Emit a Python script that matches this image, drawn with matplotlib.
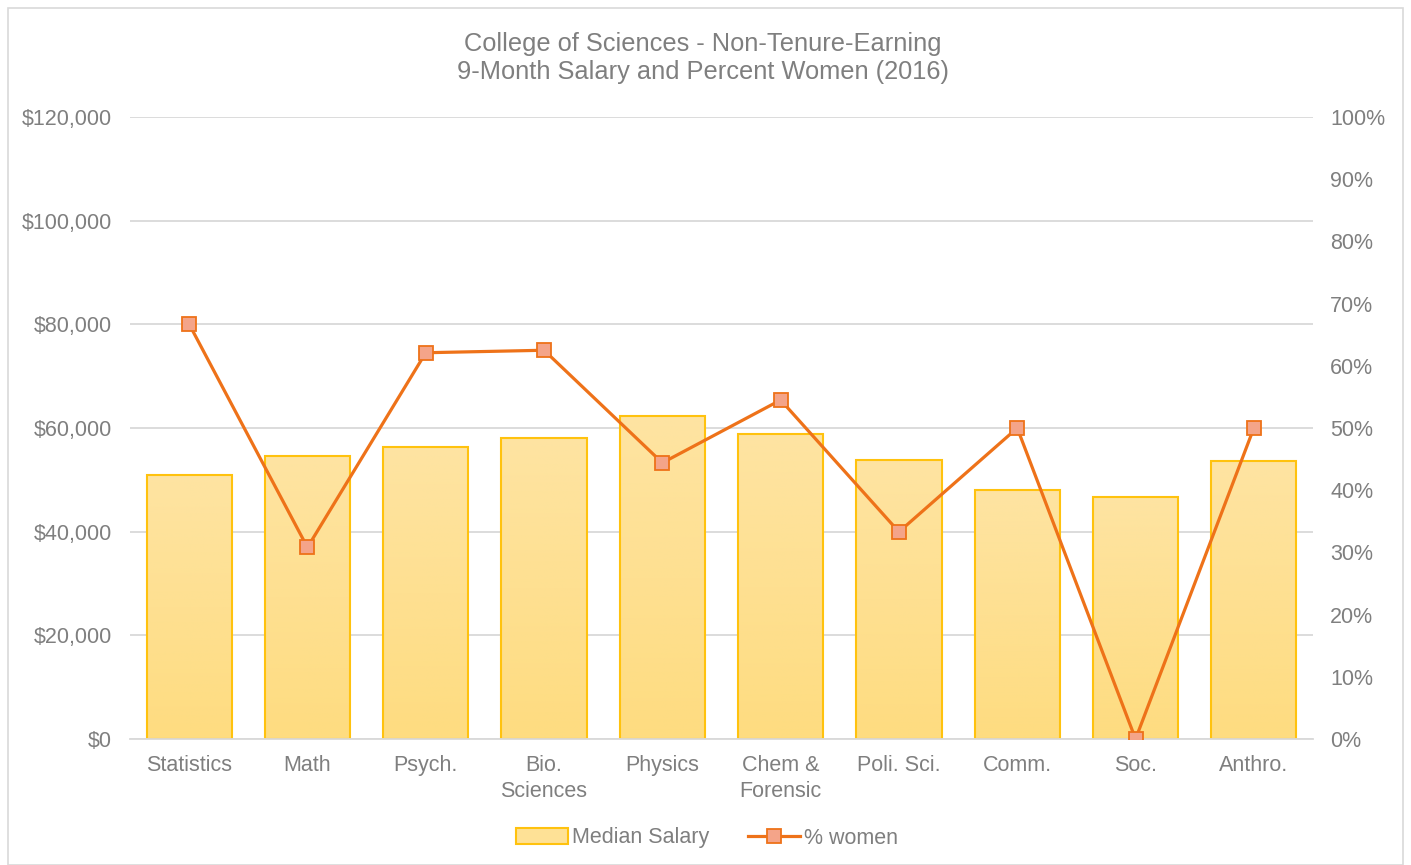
import matplotlib
matplotlib.use("Agg")
import matplotlib.pyplot as plt
import numpy as np
from matplotlib.ticker import FuncFormatter, MultipleLocator
from matplotlib.patches import Rectangle
from matplotlib.colors import LinearSegmentedColormap

plt.rcParams['font.family'] = ['Liberation Sans', 'DejaVu Sans']

categories = ["Statistics", "Math", "Psych.", "Bio.\nSciences", "Physics",
              "Chem &\nForensic", "Poli. Sci.", "Comm.", "Soc.", "Anthro."]
median_salary = [51000, 54600, 56300, 58100, 62300, 58800, 53900, 48000, 46700, 53700]
pct_women = [66.7, 30.8, 62.1, 62.5, 44.4, 54.5, 33.3, 50.0, 0.0, 50.0]

title_lines = ["College of Sciences - Non-Tenure-Earning",
               "9-Month Salary and Percent Women (2016)"]

text_color = "#7F7F7F"
bar_fill = "#FEE196"
bar_edge = "#FFC20E"
line_color = "#EE7219"
marker_face = "#F4A489"

fig = plt.figure(figsize=(14.11, 8.65), dpi=100)
W, H = 1411, 865
ax = fig.add_axes([130 / W, 1 - 739 / H, (1313 - 130) / W, (739 - 117) / H])
ax2 = ax.twinx()

x = np.arange(len(categories))
bars = ax.bar(x, median_salary, width=0.72, color=bar_fill, edgecolor=bar_edge,
              linewidth=1.5, zorder=2, label="Median Salary")

# subtle vertical gradient on bars
grad = np.linspace(0, 1, 256).reshape(-1, 1)
cmap = LinearSegmentedColormap.from_list("g", ["#FEDC80", "#FEE4A2"])
for b in bars:
    bx, by = b.get_x(), b.get_y()
    bw, bh = b.get_width(), b.get_height()
    im = ax.imshow(grad, extent=[bx, bx + bw, by, by + bh], origin="lower",
                   cmap=cmap, aspect="auto", zorder=2.1)
    im.set_clip_path(b)
    b.set_facecolor("none")
    b.set_zorder(2.2)

ax.set_xlim(-0.5, len(categories) - 0.5)
ax.set_ylim(0, 120000)
ax.yaxis.set_major_locator(MultipleLocator(20000))
ax.yaxis.set_major_formatter(FuncFormatter(lambda v, p: f"${v:,.0f}"))
ax.grid(axis="y", color="#D9D9D9", linewidth=1.3, zorder=0)
ax.set_axisbelow(True)
ax.set_xticks(x)
ax.set_xticklabels(categories, linespacing=1.3)

ax2.plot(x, pct_women, color=line_color, linewidth=2.3, marker="s", markersize=10,
         markerfacecolor=marker_face, markeredgecolor=line_color, markeredgewidth=1.3,
         zorder=5, label="% women")
ax2.set_ylim(0, 100)
ax2.yaxis.set_major_locator(MultipleLocator(10))
ax2.yaxis.set_major_formatter(FuncFormatter(lambda v, p: f"{v:.0f}%"))
ax.set_zorder(1)
ax2.set_zorder(2)
ax2.patch.set_visible(False)

for a in (ax, ax2):
    for s in a.spines.values():
        s.set_visible(False)
    a.tick_params(length=0, colors=text_color, labelsize=15.5)
ax.spines["bottom"].set_visible(True)
ax.spines["bottom"].set_color("#D9D9D9")
ax.spines["bottom"].set_linewidth(1.3)
ax.tick_params(axis="y", pad=13)
ax.tick_params(axis="x", pad=11.5)
ax2.tick_params(axis="y", pad=12.5)

fig.text(703 / W, 1 - 58 / H, "\n".join(title_lines), ha="center", va="center",
         fontsize=18.3, color=text_color, linespacing=1.25)

h1, l1 = ax.get_legend_handles_labels()
h2, l2 = ax2.get_legend_handles_labels()
leg = fig.legend(h1 + h2, l1 + l2, loc="center", bbox_to_anchor=(707 / W, 1 - 838 / H),
                 ncol=2, frameon=False, fontsize=15.5, labelcolor=text_color,
                 handlelength=2.4, handletextpad=0.2, columnspacing=1.8)
leg.legend_handles[0].set_facecolor(bar_fill)

fig.patches.append(Rectangle((8 / W, 0.0), (1403 - 8) / W, 1 - 8 / H,
                             transform=fig.transFigure, fill=False,
                             edgecolor="#D9D9D9", linewidth=1.2))

fig.savefig("out.png", dpi=100)
